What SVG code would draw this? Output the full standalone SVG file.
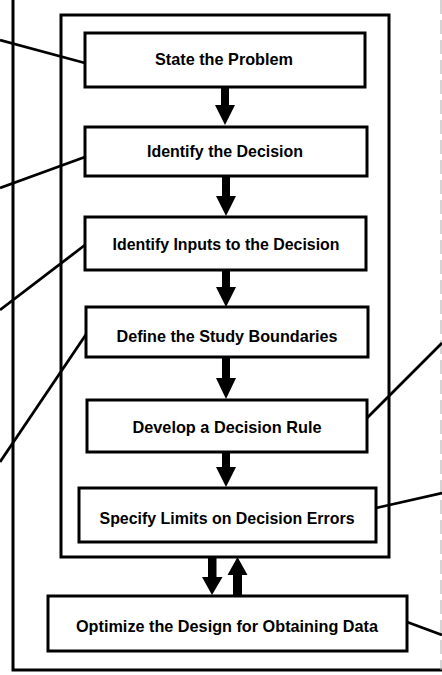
<svg xmlns="http://www.w3.org/2000/svg" width="442" height="675" viewBox="0 0 442 675">
<style>
.box{fill:#fff;stroke:#000;stroke-width:3}
.frame{fill:none;stroke:#000;stroke-width:3}
.lead{fill:none;stroke:#000;stroke-width:2.8}
.arr{fill:#000;stroke:none}
.t{font-family:"Liberation Sans",Arial,sans-serif;font-weight:bold;font-size:17px;fill:#000;text-anchor:middle}
</style>
<rect width="442" height="675" fill="#fff"/>
<g id="frame">
<path class="frame" d="M13,0 V670 H442"/>
<line x1="441" y1="0" x2="441" y2="670" stroke="#aaa" stroke-width="1" stroke-dasharray="14,6"/>
<rect class="box" x="61" y="15" width="328" height="542"/>
</g>
<g id="connectors">
<path class="lead" d="M0,40 L85,63"/>
<path class="lead" d="M0,188 L85,157"/>
<path class="lead" d="M0,310 L85,245"/>
<path class="lead" d="M0,462 L87,333"/>
<path class="lead" d="M367,418 L442,343"/>
<path class="lead" d="M376,508 L442,493"/>
<path class="lead" d="M407,622 L442,635"/>
<path class="arr" d="M221,87 H229 V105 H235 L225,125 L215,105 H221 Z"/>
<path class="arr" d="M222,176 H230 V196 H236 L226,216 L216,196 H222 Z"/>
<path class="arr" d="M222,270 H230 V287 H236 L226,307 L216,287 H222 Z"/>
<path class="arr" d="M222,357 H230 V378 H236 L226,399 L216,378 H222 Z"/>
<path class="arr" d="M222,452 H230 V467 H236 L226,487 L216,467 H222 Z"/>
<path class="arr" d="M208,557 H216.5 V577 H222.5 L212,595 L202,577 H208 Z"/>
<path class="arr" d="M233,595 H242 V575 H247.5 L237.5,557 L227.5,575 H233 Z"/>
</g>
<g id="n1"><rect class="box" x="85" y="33" width="280" height="54"/><text class="t" x="224" y="65" textLength="138" lengthAdjust="spacingAndGlyphs">State the Problem</text></g>
<g id="n2"><rect class="box" x="85" y="127" width="282" height="49"/><text class="t" x="225" y="157" textLength="156" lengthAdjust="spacingAndGlyphs">Identify the Decision</text></g>
<g id="n3"><rect class="box" x="85" y="217" width="281" height="53"/><text class="t" x="226" y="250" textLength="227" lengthAdjust="spacingAndGlyphs">Identify Inputs to the Decision</text></g>
<g id="n4"><rect class="box" x="86" y="307" width="282" height="50"/><text class="t" x="227" y="342" textLength="221" lengthAdjust="spacingAndGlyphs">Define the Study Boundaries</text></g>
<g id="n5"><rect class="box" x="87" y="400" width="280" height="52"/><text class="t" x="227" y="433" textLength="189" lengthAdjust="spacingAndGlyphs">Develop a Decision Rule</text></g>
<g id="n6"><rect class="box" x="79" y="488" width="297" height="54"/><text class="t" x="227" y="524" textLength="255" lengthAdjust="spacingAndGlyphs">Specify Limits on Decision Errors</text></g>
<g id="n7"><rect class="box" x="48" y="596" width="359" height="55"/><text class="t" x="227" y="632" textLength="302" lengthAdjust="spacingAndGlyphs">Optimize the Design for Obtaining Data</text></g>
</svg>
